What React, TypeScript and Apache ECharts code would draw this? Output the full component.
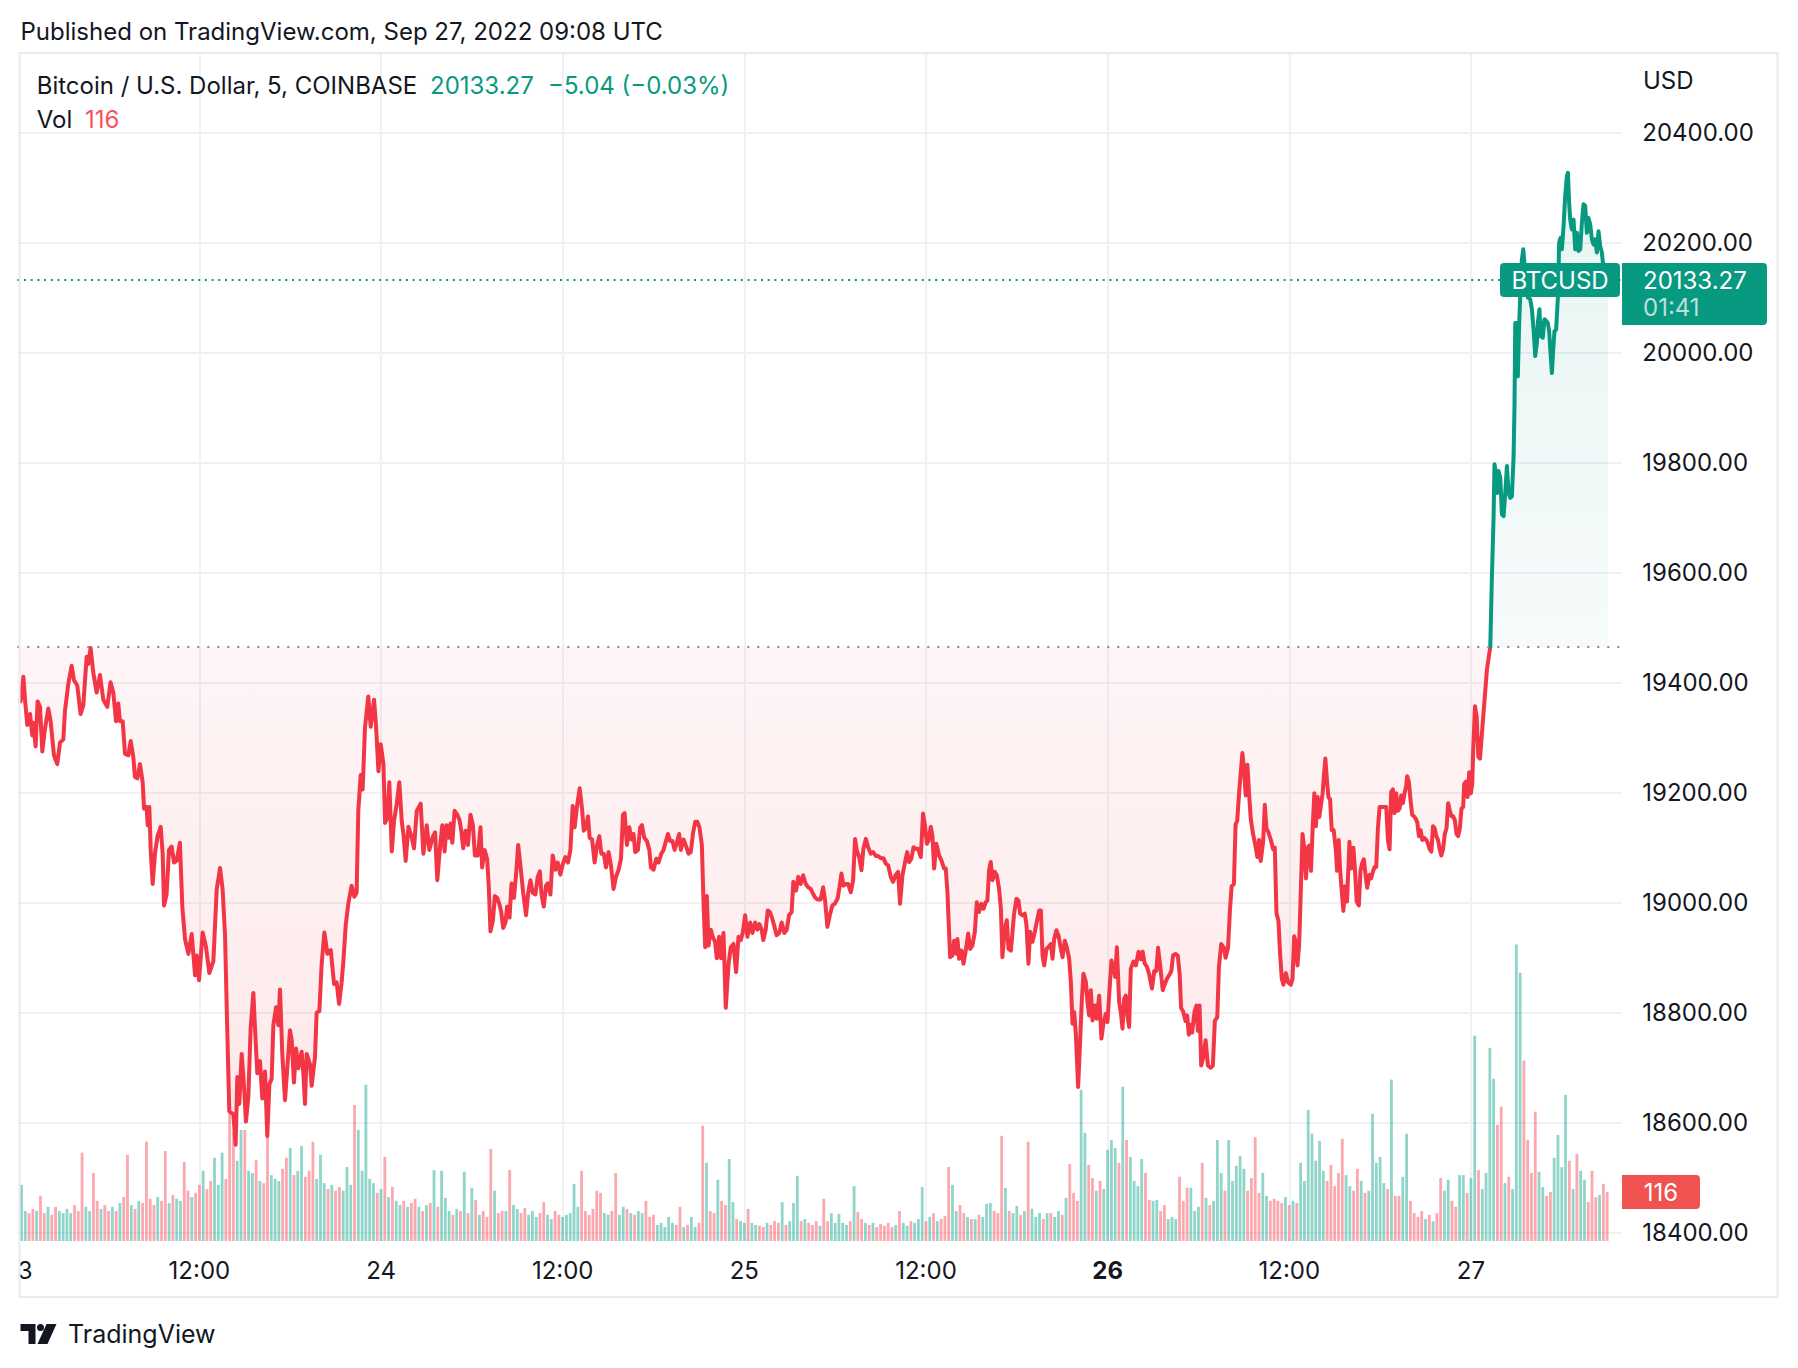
import React, { useEffect, useRef } from "react";
import * as echarts from "echarts";

const FONT = 'Inter, "Noto Sans", Roboto, sans-serif';

// ---- texts ----
const publishedText = "Published on TradingView.com, Sep 27, 2022 09:08 UTC";
const symbolText = "Bitcoin / U.S. Dollar, 5, COINBASE";
const lastPrice = 20133.27;
const changeText = "\u22125.04 (\u22120.03%)";
const volumeTitle = "Vol";
const lastVolume = 116;
const countdownText = "01:41";
const tickerText = "BTCUSD";
const currencyText = "USD";
const brandText = "TradingView";

// ---- scales ----
const baselinePrice = 19465;
const priceMin = 18400;
const priceMax = 20400;
const priceStep = 200;
const xTickHours = [0, 12, 24, 36, 48, 60, 72, 84, 96];
const xTickLabels = ["23", "12:00", "24", "12:00", "25", "12:00", "26", "12:00", "27"];
const boldTickLabels = ["26"];

// ---- price: [hours since Sep 23 00:00 UTC, price] ----
const pricePoints: [number, number][] = [
  [0.22,19366],[0.40,19411],[0.51,19369],[0.66,19323],[0.84,19343],[0.99,19304],[1.06,19327],[1.21,19284],[1.34,19366],[1.50,19356],
  [1.65,19275],[1.83,19317],[2.05,19353],[2.20,19330],[2.42,19268],[2.64,19252],[2.82,19291],[3.04,19297],[3.15,19349],[3.37,19398],
  [3.59,19431],[3.74,19405],[3.96,19395],[4.18,19343],[4.36,19359],[4.58,19447],[4.69,19434],[4.84,19463],[5.02,19418],[5.24,19382],
  [5.46,19414],[5.68,19369],[5.94,19356],[6.16,19401],[6.34,19382],[6.52,19330],[6.67,19362],[6.78,19330],[6.96,19330],[7.11,19271],
  [7.33,19268],[7.49,19294],[7.66,19265],[7.77,19229],[7.93,19226],[8.10,19252],[8.28,19219],[8.37,19171],[8.54,19174],[8.61,19141],
  [8.72,19174],[8.81,19096],[8.94,19034],[9.09,19089],[9.27,19122],[9.47,19138],[9.60,19089],[9.69,18995],[9.86,19015],[10.02,19096],
  [10.19,19102],[10.35,19073],[10.52,19076],[10.74,19109],[10.90,18992],[11.08,18933],[11.30,18907],[11.52,18943],[11.74,18868],[11.85,18904],
  [12.00,18859],[12.24,18946],[12.46,18920],[12.68,18872],[12.95,18894],[13.17,19024],[13.39,19063],[13.56,19024],[13.72,18940],[13.87,18764],
  [14.00,18621],[14.27,18615],[14.42,18560],[14.53,18683],[14.66,18634],[14.82,18725],[14.97,18667],[15.10,18602],[15.26,18647],[15.41,18771],
  [15.59,18836],[15.70,18771],[15.85,18690],[16.03,18712],[16.18,18644],[16.36,18693],[16.51,18576],[16.65,18670],[16.80,18680],[16.91,18777],
  [17.09,18810],[17.24,18777],[17.35,18842],[17.50,18725],[17.68,18641],[17.83,18699],[18.01,18768],[18.12,18751],[18.27,18673],[18.41,18735],
  [18.56,18699],[18.78,18729],[18.89,18690],[19.00,18634],[19.11,18725],[19.33,18706],[19.44,18667],[19.66,18719],[19.77,18800],[19.95,18803],
  [20.10,18888],[20.28,18946],[20.48,18907],[20.70,18914],[20.92,18852],[21.09,18855],[21.25,18816],[21.42,18855],[21.53,18891],[21.69,18959],
  [21.86,18998],[22.08,19031],[22.26,19011],[22.41,19018],[22.52,19167],[22.68,19232],[22.81,19206],[22.96,19317],[23.18,19375],[23.34,19320],
  [23.56,19369],[23.69,19323],[23.85,19239],[24.00,19288],[24.18,19252],[24.29,19145],[24.44,19154],[24.57,19219],[24.73,19093],[24.88,19148],
  [25.06,19180],[25.23,19219],[25.39,19148],[25.50,19125],[25.65,19076],[25.83,19138],[26.05,19119],[26.20,19099],[26.38,19167],[26.64,19180],
  [26.82,19089],[27.04,19141],[27.21,19096],[27.43,19119],[27.59,19128],[27.74,19041],[27.92,19102],[28.07,19141],[28.22,19093],[28.35,19141],
  [28.51,19118],[28.62,19144],[28.73,19109],[28.88,19167],[29.06,19160],[29.21,19150],[29.32,19131],[29.45,19099],[29.61,19131],[29.76,19105],
  [29.93,19160],[30.09,19141],[30.22,19086],[30.42,19086],[30.59,19137],[30.70,19064],[30.86,19096],[31.03,19080],[31.14,19028],[31.25,18948],
  [31.41,18967],[31.54,19012],[31.69,19009],[31.85,18996],[31.96,18983],[32.09,18954],[32.24,18964],[32.35,18993],[32.51,18973],[32.64,19035],
  [32.80,19009],[32.95,19054],[33.08,19105],[33.23,19067],[33.41,19018],[33.60,18977],[33.74,19018],[33.89,19041],[34.04,19018],[34.22,19015],
  [34.37,19047],[34.51,19057],[34.62,19015],[34.77,18993],[34.92,19031],[35.03,19035],[35.21,19015],[35.36,19086],[35.54,19060],[35.69,19073],
  [35.87,19051],[36.02,19070],[36.20,19083],[36.37,19073],[36.53,19096],[36.68,19176],[36.81,19137],[36.97,19176],[37.14,19208],[37.30,19170],
  [37.41,19131],[37.56,19137],[37.69,19157],[37.80,19118],[37.96,19115],[38.13,19073],[38.29,19105],[38.44,19121],[38.57,19089],[38.73,19089],
  [38.88,19064],[39.05,19092],[39.21,19067],[39.38,19025],[39.54,19047],[39.71,19060],[39.87,19080],[40.00,19160],[40.11,19163],[40.26,19105],
  [40.42,19137],[40.55,19115],[40.70,19125],[40.81,19092],[40.99,19096],[41.14,19137],[41.25,19141],[41.41,19118],[41.58,19112],[41.74,19096],
  [41.85,19064],[42.02,19060],[42.20,19080],[42.35,19073],[42.53,19089],[42.68,19096],[42.84,19112],[42.97,19125],[43.12,19112],[43.27,19112],
  [43.41,19096],[43.56,19109],[43.71,19125],[43.82,19096],[44.00,19115],[44.18,19102],[44.33,19089],[44.48,19092],[44.62,19125],[44.77,19147],
  [44.92,19147],[45.05,19137],[45.21,19105],[45.32,19002],[45.43,18919],[45.54,19012],[45.65,18922],[45.80,18951],[45.93,18938],[46.09,18928],
  [46.20,18899],[46.35,18938],[46.48,18899],[46.64,18945],[46.79,18809],[46.97,18887],[47.12,18919],[47.30,18925],[47.47,18874],[47.63,18938],
  [47.78,18932],[47.91,18945],[48.07,18977],[48.22,18938],[48.40,18964],[48.55,18945],[48.73,18964],[48.88,18951],[49.01,18961],[49.16,18951],
  [49.27,18932],[49.43,18951],[49.56,18986],[49.71,18983],[49.87,18970],[50.00,18957],[50.15,18941],[50.33,18945],[50.48,18964],[50.66,18945],
  [50.82,18951],[50.97,18977],[51.14,18983],[51.25,19038],[51.43,19022],[51.58,19047],[51.74,19034],[51.90,19050],[52.07,19034],[52.23,19028],
  [52.40,19025],[52.56,19016],[52.67,19010],[52.84,19006],[53.06,19006],[53.22,19028],[53.35,19004],[53.50,18956],[53.66,18977],[53.83,18995],
  [53.99,18998],[54.17,19007],[54.30,19028],[54.43,19053],[54.56,19031],[54.72,19034],[54.87,19034],[55.05,19019],[55.20,19041],[55.33,19116],
  [55.44,19095],[55.60,19083],[55.75,19059],[55.88,19098],[56.04,19116],[56.19,19101],[56.37,19089],[56.52,19092],[56.70,19085],[56.85,19085],
  [57.03,19081],[57.20,19081],[57.36,19071],[57.51,19068],[57.69,19047],[57.84,19038],[58.02,19051],[58.17,19056],[58.30,18998],[58.46,19050],
  [58.61,19071],[58.77,19092],[58.90,19074],[59.05,19080],[59.19,19101],[59.34,19098],[59.49,19098],[59.67,19083],[59.82,19162],[59.96,19138],
  [60.07,19107],[60.18,19113],[60.33,19138],[60.44,19122],[60.55,19062],[60.70,19107],[60.88,19086],[61.03,19077],[61.21,19062],[61.32,19062],
  [61.43,19019],[61.50,18971],[61.61,18901],[61.76,18904],[61.87,18931],[62.03,18907],[62.09,18934],[62.20,18898],[62.36,18913],[62.49,18889],
  [62.64,18913],[62.80,18944],[62.93,18916],[63.08,18922],[63.24,18947],[63.37,19001],[63.52,18983],[63.68,18998],[63.81,18989],[63.96,19001],
  [64.07,19004],[64.18,19059],[64.29,19074],[64.40,19041],[64.56,19056],[64.69,19050],[64.84,19025],[64.96,18989],[65.06,18901],[65.22,18953],
  [65.35,18968],[65.46,18916],[65.62,18913],[65.72,18944],[65.83,18980],[65.99,19007],[66.12,19004],[66.23,18980],[66.39,18977],[66.54,18980],
  [66.65,18959],[66.78,18889],[66.89,18947],[67.05,18929],[67.20,18947],[67.33,18965],[67.49,18986],[67.60,18986],[67.71,18904],[67.82,18886],
  [67.97,18916],[68.10,18919],[68.26,18925],[68.37,18898],[68.48,18934],[68.63,18950],[68.76,18941],[68.92,18916],[69.03,18901],[69.18,18931],
  [69.31,18919],[69.47,18898],[69.58,18856],[69.69,18780],[69.80,18801],[69.91,18762],[70.06,18665],[70.19,18747],[70.30,18819],[70.41,18871],
  [70.57,18856],[70.68,18819],[70.79,18795],[70.90,18841],[71.01,18786],[71.16,18813],[71.29,18789],[71.45,18831],[71.60,18753],[71.73,18780],
  [71.89,18798],[72.00,18783],[72.11,18831],[72.26,18895],[72.40,18880],[72.51,18865],[72.62,18919],[72.77,18819],[72.88,18801],[72.99,18771],
  [73.10,18825],[73.21,18831],[73.32,18795],[73.43,18774],[73.54,18880],[73.72,18893],[73.88,18886],[74.05,18911],[74.21,18897],[74.32,18911],
  [74.45,18890],[74.61,18883],[74.76,18869],[74.94,18844],[75.09,18876],[75.23,18876],[75.34,18918],[75.49,18883],[75.65,18841],[75.78,18851],
  [75.93,18862],[76.09,18869],[76.22,18876],[76.33,18904],[76.49,18907],[76.64,18904],[76.77,18869],[76.86,18809],[77.00,18802],[77.15,18785],
  [77.26,18795],[77.37,18760],[77.48,18778],[77.59,18764],[77.75,18802],[77.88,18813],[77.97,18767],[78.08,18813],[78.19,18704],[78.32,18718],
  [78.48,18750],[78.63,18704],[78.81,18700],[78.96,18704],[79.09,18785],[79.25,18792],[79.36,18883],[79.51,18925],[79.69,18918],[79.80,18900],
  [79.96,18918],[80.09,18988],[80.20,19030],[80.35,19034],[80.46,19142],[80.57,19149],[80.69,19199],[80.80,19237],[80.91,19272],[81.02,19241],
  [81.13,19195],[81.24,19251],[81.35,19199],[81.46,19153],[81.61,19125],[81.75,19107],[81.90,19083],[82.01,19114],[82.12,19076],[82.28,19111],
  [82.39,19178],[82.50,19135],[82.63,19128],[82.79,19114],[82.94,19097],[83.05,19100],[83.16,18981],[83.29,18967],[83.40,18907],[83.51,18862],
  [83.62,18851],[83.78,18872],[83.93,18855],[84.11,18851],[84.22,18862],[84.33,18939],[84.44,18928],[84.55,18886],[84.66,18925],[84.77,19023],
  [84.88,19125],[84.99,19100],[85.11,19044],[85.22,19100],[85.33,19104],[85.44,19058],[85.55,19135],[85.66,19199],[85.77,19139],[85.88,19192],
  [85.99,19156],[86.10,19178],[86.21,19199],[86.32,19241],[86.39,19262],[86.50,19220],[86.59,19192],[86.70,19188],[86.81,19132],[86.94,19132],
  [87.09,19093],[87.16,19058],[87.27,19114],[87.36,19062],[87.47,19020],[87.58,18985],[87.69,19030],[87.82,19002],[87.98,19111],[88.09,19062],
  [88.24,19100],[88.35,19058],[88.46,19002],[88.60,18995],[88.71,19058],[88.82,19072],[88.93,19079],[89.04,19051],[89.15,19027],[89.30,19051],
  [89.41,19044],[89.52,19055],[89.64,19065],[89.75,19065],[89.86,19135],[89.97,19174],[90.12,19174],[90.30,19174],[90.41,19174],[90.52,19114],
  [90.63,19097],[90.74,19202],[90.85,19206],[90.96,19163],[91.07,19199],[91.18,19167],[91.29,19171],[91.40,19195],[91.51,19181],[91.62,19199],
  [91.73,19213],[91.79,19230],[91.90,19220],[92.01,19188],[92.12,19160],[92.24,19157],[92.35,19153],[92.46,19146],[92.57,19121],[92.68,19132],
  [92.79,19114],[92.90,19118],[93.06,19114],[93.17,19107],[93.28,19097],[93.39,19093],[93.50,19139],[93.61,19135],[93.72,19121],[93.83,19114],
  [93.94,19097],[94.05,19086],[94.16,19097],[94.28,19125],[94.39,19135],[94.50,19181],[94.61,19167],[94.72,19157],[94.83,19157],[94.94,19150],
  [95.05,19125],[95.16,19121],[95.27,19135],[95.38,19171],[95.49,19174],[95.56,19216],[95.67,19220],[95.78,19192],[95.89,19237],[96.00,19199],
  [96.09,19216],[96.16,19283],[96.27,19357],[96.38,19339],[96.49,19265],[96.60,19262],[97.06,19424],[97.28,19465],[97.39,19594],[97.50,19703],
  [97.56,19797],[97.67,19779],[97.74,19745],[97.83,19785],[97.94,19773],[98.05,19706],[98.16,19703],[98.27,19745],[98.38,19794],[98.49,19745],
  [98.60,19736],[98.71,19739],[98.82,19812],[98.88,19903],[98.93,20054],[99.04,20054],[99.10,19957],[99.19,20054],[99.26,20103],[99.37,20170],
  [99.46,20188],[99.55,20158],[99.64,20115],[99.77,20100],[99.92,20097],[100.03,20079],[100.14,20042],[100.25,19994],[100.36,20018],[100.42,20054],
  [100.53,20079],[100.60,20030],[100.69,20054],[100.75,20027],[100.86,20061],[100.97,20058],[101.08,20054],[101.17,20039],[101.26,19999],[101.35,19963],
  [101.44,20006],[101.52,20039],[101.63,20042],[101.75,20103],[101.83,20200],[101.92,20209],[102.01,20188],[102.12,20230],[102.23,20285],[102.34,20321],
  [102.41,20327],[102.49,20273],[102.56,20242],[102.67,20224],[102.78,20242],[102.89,20188],[103.00,20218],[103.11,20185],[103.22,20188],[103.33,20236],
  [103.44,20270],[103.55,20267],[103.66,20218],[103.77,20245],[103.88,20233],[103.99,20206],[104.10,20197],[104.21,20206],[104.32,20182],[104.43,20221],
  [104.54,20194],[104.65,20182],[104.72,20164],[105.05,20133.27],
];

// ---- volume: 15-minute buckets, first bucket centred at 0.25 h ----
const volumeFirstHour = 0.25;
const volumeStepHours = 0.25;
const volumeValues = [
  133,71,66,76, 71,107,66,81, 62,81,71,66, 76,66,85,71, 209,81,71,161, 95,76,85,71, 81,71,90,104, 204,85,76,95, 90,235,100,85, 104,95,213,90,
  109,100,95,187, 119,104,114,133, 166,123,142,197, 133,209,147,310, 258,190,263,263, 166,161,192,142, 137,246,156,147, 142,171,197,220, 156,166,225,152, 166,235,147,204,
  137,123,133,119, 128,119,175,133, 322,263,166,370, 147,137,114,123, 199,104,128,95, 85,95,81,90, 100,81,71,85, 90,168,81,166, 102,71,62,76, 71,164,66,126,
  97,62,71,57, 218,119,66,71, 71,168,85,76, 66,78,62,71, 57,66,92,62, 52,71,62,57, 62,66,135,81, 166,71,62,76, 119,114,66,62, 71,161,62,81,
  76,66,62,71, 66,95,57,62, 38,43,33,57, 43,38,81,33, 38,57,33,43, 273,185,71,66, 145,95,85,194, 92,52,47,43, 76,43,38,36, 33,43,38,47,
  43,92,38,47, 90,154,47,52, 43,38,47,36, 100,47,66,43, 64,43,38,47, 130,69,52,43, 38,43,33,40, 36,43,33,38, 71,43,36,47, 43,52,128,47,
  57,66,47,52, 59,175,133,71, 85,66,57,52, 52,62,57,88, 90,71,66,249, 126,71,66,83, 62,71,235,76, 57,66,52,66, 66,57,71,62, 102,182,114,95,
  358,256,180,149, 119,142,123,216, 239,220,185,365, 239,199,142,130, 194,161,97,95, 97,71,85,52, 57,52,152,95, 126,126,71,81, 185,102,85,95, 239,161,119,239,
  142,178,201,171, 119,149,246,114, 161,107,95,100, 95,90,104,85, 95,90,185,142, 310,254,190,237, 166,142,180,130, 161,242,156,130, 119,171,142,114, 119,301,185,199,
  137,123,382,107, 107,152,254,95, 66,57,71,52, 62,47,66,149, 119,145,95,81, 156,156,114,149, 486,168,123,161, 457,384,275,318, 137,152,123,702, 635,427,239,161,
  306,164,128,107, 116,197,251,175, 346,190,123,206, 166,145,92,166, 104,109,135,116,
];

// ---- colours ----
const C_TEXT = "#131722";
const C_UP = "#089981";
const C_DOWN = "#f23645";
const C_VOL_UP = "rgba(34,171,148,0.5)";
const C_VOL_DOWN = "rgba(247,82,95,0.5)";
const C_GRID = "#f0f1f4";

// ---- layout ----
const PLOT_LEFT = 17.3;
const PLOT_WIDTH = 1605;
const PRICE_TOP = 132.7;
const PRICE_HEIGHT = 1100;
const PANE_TOP = 53;
const PANE_HEIGHT = 1188;
const X_MAX = 106;
const VOLUME_AXIS_MAX = 2812;
const FS = 24;

echarts.graphic.registerShape(
  "tvlogo",
  echarts.graphic.extendPath(
    "M0 0H15V20H8V7H0Z M16.5 3.5A3.5 3.5 0 1 0 23.5 3.5A3.5 3.5 0 1 0 16.5 3.5Z M26 0H36L27 20H17Z",
    {}
  ) as any
);

function priceAt(h: number): number {
  let v = pricePoints[0][1];
  for (const [t, p] of pricePoints) {
    if (t <= h) v = p;
    else break;
  }
  return v;
}

export default function App() {
  const ref = useRef<HTMLDivElement>(null);

  useEffect(() => {
    document.body.style.margin = "0";
    const chart = echarts.init(ref.current!, null, { renderer: "svg" });

    const cross = pricePoints.findIndex((p) => p[1] >= baselinePrice && p[0] > 90);
    const redData = pricePoints.slice(0, cross + 1);
    const greenData = pricePoints.slice(cross);

    const volData = volumeValues.map((v, i) => {
      const c = volumeFirstHour + i * volumeStepHours;
      const up = priceAt(c + volumeStepHours / 2) >= priceAt(c - volumeStepHours / 2);
      return { value: [c, v], itemStyle: { color: up ? C_VOL_UP : C_VOL_DOWN } };
    });

    const txt = (text: string, x: number, y: number, o: any = {}) => ({
      type: "text",
      x,
      y,
      z: 100,
      style: {
        text,
        fill: o.fill || C_TEXT,
        font: `${o.weight || "normal"} ${o.size || FS}px ${FONT}`,
        textAlign: o.align || "left",
        textVerticalAlign: "middle",
      },
    });

    const option: any = {
      animation: false,
      backgroundColor: "#ffffff",
      textStyle: { fontFamily: FONT },
      grid: [
        { left: PLOT_LEFT, top: PRICE_TOP, width: PLOT_WIDTH, height: PRICE_HEIGHT },
        { left: PLOT_LEFT, top: PANE_TOP, width: PLOT_WIDTH, height: PANE_HEIGHT },
      ],
      xAxis: [
        { type: "value", gridIndex: 0, min: 0, max: X_MAX, show: false },
        {
          type: "value",
          gridIndex: 1,
          min: 0,
          max: X_MAX,
          interval: 12,
          axisLine: { show: false },
          axisTick: { show: false },
          splitLine: {
            show: true,
            showMinLine: false,
            showMaxLine: false,
            lineStyle: { color: C_GRID, width: 2 },
          },
          axisLabel: {
            show: true,
            margin: 17,
            fontSize: FS,
            color: C_TEXT,
            fontFamily: FONT,
            showMaxLabel: false,
            formatter: (v: number) => {
              const i = xTickHours.indexOf(Math.round(v * 1000) / 1000);
              if (i < 0) return "";
              const lab = xTickLabels[i];
              return boldTickLabels.includes(lab) ? `{b|${lab}}` : lab;
            },
            rich: { b: { fontWeight: "bold", fontSize: FS, color: C_TEXT, fontFamily: FONT } },
          },
        },
      ],
      yAxis: [
        {
          type: "value",
          gridIndex: 0,
          position: "right",
          min: priceMin,
          max: priceMax,
          interval: priceStep,
          axisLine: { show: false },
          axisTick: { show: false },
          splitLine: { show: true, lineStyle: { color: C_GRID, width: 2 } },
          axisLabel: {
            margin: 20,
            fontSize: FS,
            color: C_TEXT,
            fontFamily: FONT,
            formatter: (v: number) => v.toFixed(2),
          },
        },
        {
          type: "value",
          gridIndex: 1,
          min: 0,
          max: VOLUME_AXIS_MAX,
          show: false,
          splitLine: { show: false },
        },
      ],
      series: [
        {
          name: "Vol",
          type: "bar",
          xAxisIndex: 1,
          yAxisIndex: 1,
          data: volData,
          barWidth: 2.8,
          silent: true,
          z: 1,
        },
        {
          name: "BTCUSD below",
          type: "line",
          xAxisIndex: 0,
          yAxisIndex: 0,
          data: redData,
          showSymbol: false,
          symbol: "none",
          silent: true,
          z: 3,
          lineStyle: { color: C_DOWN, width: 4, join: "round", cap: "round" },
          itemStyle: { color: C_DOWN },
          areaStyle: {
            origin: baselinePrice,
            color: new echarts.graphic.LinearGradient(0, 0, 0, 1, [
              { offset: 0, color: "rgba(242,54,69,0.07)" },
              { offset: 1, color: "rgba(242,54,69,0.16)" },
            ]),
          },
          markLine: {
            silent: true,
            symbol: ["none", "none"],
            label: { show: false },
            lineStyle: { color: "#868993", type: [2, 8], width: 2 },
            data: [{ yAxis: baselinePrice }],
          },
        },
        {
          name: "BTCUSD above",
          type: "line",
          xAxisIndex: 0,
          yAxisIndex: 0,
          data: greenData,
          showSymbol: false,
          symbol: "none",
          silent: true,
          z: 3,
          lineStyle: { color: C_UP, width: 4, join: "round", cap: "round" },
          itemStyle: { color: C_UP },
          areaStyle: {
            origin: baselinePrice,
            color: new echarts.graphic.LinearGradient(0, 0, 0, 1, [
              { offset: 0, color: "rgba(8,153,129,0.14)" },
              { offset: 1, color: "rgba(8,153,129,0.05)" },
            ]),
          },
          markLine: {
            silent: true,
            symbol: ["none", "none"],
            label: { show: false },
            lineStyle: { color: C_UP, type: [2, 4.7], width: 2 },
            data: [{ yAxis: lastPrice }],
          },
        },
      ],
      graphic: [
        // mask for the clipped first date label
        { type: "rect", z: 90, shape: { x: 0, y: 1248, width: 18.5, height: 45 }, style: { fill: "#ffffff" } },
        // frame
        {
          type: "rect",
          z: 95,
          shape: { x: 19.5, y: 53, width: 1758, height: 1244 },
          style: { fill: "none", stroke: "#e9eaee", lineWidth: 2 },
        },
        txt(publishedText, 20.5, 31),
        txt(symbolText, 36.7, 85),
        txt(lastPrice.toFixed(2), 430, 85, { fill: C_UP }),
        txt(changeText, 548, 85, { fill: C_UP }),
        txt(volumeTitle, 36.7, 119),
        txt(String(lastVolume), 85, 119, { fill: "#f7525f" }),
        txt(currencyText, 1643, 80),
        // ticker label on the price line
        { type: "rect", z: 100, shape: { x: 1500, y: 263, width: 120, height: 34, r: 4 }, style: { fill: C_UP } },
        txt(tickerText, 1560, 280.5, { fill: "#ffffff", align: "center" }),
        // last price label on the scale
        { type: "rect", z: 100, shape: { x: 1622, y: 263, width: 145, height: 62, r: [0, 4, 4, 0] }, style: { fill: C_UP } },
        txt(lastPrice.toFixed(2), 1643, 280.5, { fill: "#ffffff" }),
        txt(countdownText, 1643, 307, { fill: "rgba(255,255,255,0.72)" }),
        // last volume label
        { type: "rect", z: 100, shape: { x: 1622, y: 1175, width: 78, height: 34, r: [0, 4, 4, 0] }, style: { fill: "#f0524f" } },
        txt(String(lastVolume), 1661, 1192.5, { fill: "#ffffff", align: "center" }),
        // brand
        { type: "tvlogo", z: 100, x: 20.5, y: 1324, style: { fill: C_TEXT } },
        txt(brandText, 68, 1334, { size: 25 }),
      ],
    };

    chart.setOption(option);
    return () => chart.dispose();
  }, []);

  return <div ref={ref} style={{ width: 1798, height: 1368 }} />;
}
